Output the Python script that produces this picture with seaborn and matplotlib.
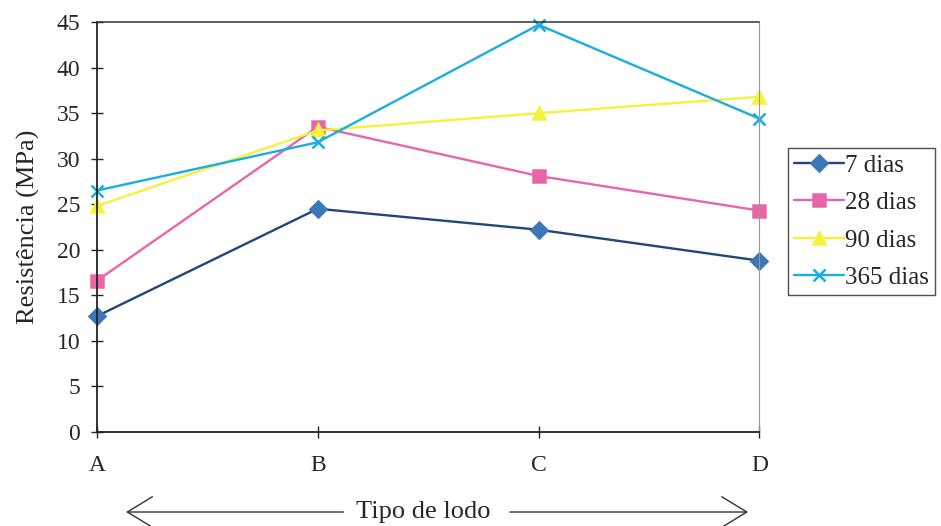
import matplotlib
matplotlib.use("Agg")
import matplotlib.pyplot as plt
from matplotlib.patches import FancyArrowPatch
import seaborn as sns
import pandas as pd

# Resistance (MPa) per sludge type and curing age
tipos = ["A", "B", "C", "D"]
dias_7 = [12.7, 24.5, 22.2, 18.8]
dias_28 = [16.6, 33.5, 28.1, 24.3]
dias_90 = [24.8, 33.1, 35.0, 36.8]
dias_365 = [26.5, 31.8, 44.7, 34.4]
series_names = ["7 dias", "28 dias", "90 dias", "365 dias"]
y_ticks = list(range(0, 50, 5))

series_values = [dias_7, dias_28, dias_90, dias_365]

sns.set_style("white")
plt.rcParams["font.family"] = ["Liberation Serif", "DejaVu Serif"]

fig = plt.figure(figsize=(9.41, 5.26), dpi=100)
ax = fig.add_axes([0.103, 0.179, 0.704, 0.779])

styles = {
    "7 dias": dict(color="#22467a", marker="D", mfc="#3b78b5", mec="#3b78b5", ms=8.5),
    "28 dias": dict(color="#e866a8", marker="s", mfc="#e866a8", mec="#e866a8", ms=9),
    "90 dias": dict(color="#f4f23c", marker="^", mfc="#f4f23c", mec="#f4f23c", ms=9),
    "365 dias": dict(color="#1aaee0", marker="x", mfc="#1aaee0", mec="#1aaee0", ms=9),
}

for name, vals in zip(series_names, series_values):
    d = pd.DataFrame({"tipo": tipos, "res": vals})
    st = styles[name]
    sns.lineplot(data=d, x="tipo", y="res", ax=ax, label=name,
                 color=st["color"], marker=st["marker"], markersize=st["ms"],
                 markerfacecolor=st["mfc"], markeredgecolor=st["mec"],
                 markeredgewidth=1.8, linewidth=1.7, clip_on=False)

ax.set_xlim(0, 3)
ax.set_ylim(0, 45)
ax.set_yticks(y_ticks)
ax.set_xlabel("")
ax.set_ylabel("Resistência (MPa)", fontsize=19, labelpad=12)
ax.tick_params(axis="y", direction="inout", length=8, width=1, labelsize=17, pad=8, left=True)
ax.tick_params(axis="x", direction="inout", length=9, width=1, labelsize=17, pad=12, bottom=True)

for s in ["left", "bottom"]:
    ax.spines[s].set_color("#222222")
    ax.spines[s].set_linewidth(1.3)
ax.spines["top"].set_color("#333333")
ax.spines["top"].set_linewidth(1.1)
ax.spines["right"].set_color("#999999")
ax.spines["right"].set_linewidth(0.8)

handles, labels = ax.get_legend_handles_labels()
leg = ax.legend(handles, labels, loc="upper left", bbox_to_anchor=(1.043, 0.693),
                frameon=True, fancybox=False, edgecolor="#222222", fontsize=18,
                handlelength=2.0, handletextpad=0.05, borderpad=0.25, labelspacing=0.6,
                borderaxespad=0)
leg.get_frame().set_linewidth(1.0)

# Axis caption with arrows on both sides
fig.text(0.45, 0.027, "Tipo de lodo", ha="center", va="center", fontsize=19)
arrow_kw = dict(arrowstyle="->,head_length=0.9,head_width=0.55", color="#333333", lw=1.0,
                mutation_scale=20, transform=fig.transFigure)
fig.add_artist(FancyArrowPatch((0.368, 0.0266), (0.131, 0.0266), **arrow_kw))
fig.add_artist(FancyArrowPatch((0.539, 0.0266), (0.798, 0.0266), **arrow_kw))

fig.savefig("out.png", dpi=100)
